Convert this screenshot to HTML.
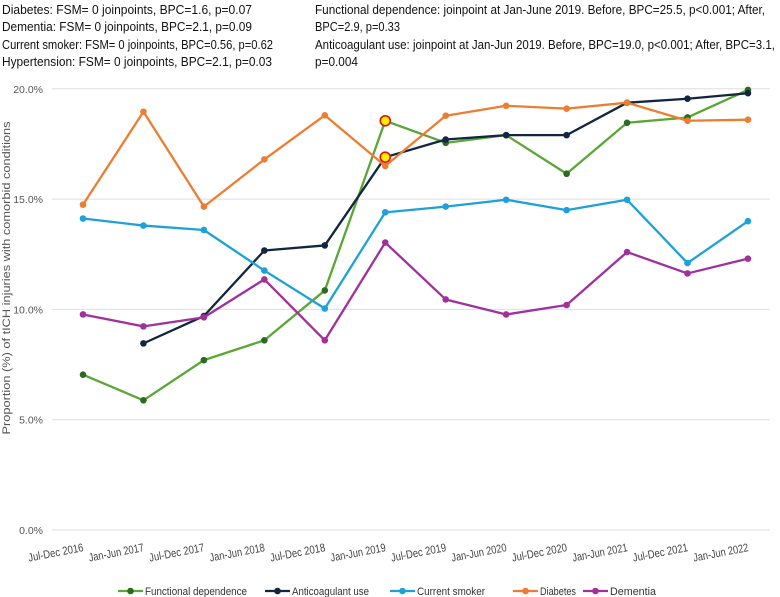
<!DOCTYPE html>
<html><head><meta charset="utf-8"><style>
html,body{margin:0;padding:0;background:#fff;}
svg{display:block;font-family:"Liberation Sans",sans-serif;}
</style></head><body>
<svg id="chart" width="780" height="597" viewBox="0 0 780 597" xmlns="http://www.w3.org/2000/svg">
<g font-size="12.5" fill="#111">
<text x="2" y="14" textLength="250" lengthAdjust="spacingAndGlyphs">Diabetes: FSM= 0 joinpoints, BPC=1.6, p=0.07</text>
<text x="2" y="31" textLength="250" lengthAdjust="spacingAndGlyphs">Dementia: FSM= 0 joinpoints, BPC=2.1, p=0.09</text>
<text x="2" y="49" textLength="271" lengthAdjust="spacingAndGlyphs">Current smoker: FSM= 0 joinpoints, BPC=0.56, p=0.62</text>
<text x="2" y="66" textLength="270" lengthAdjust="spacingAndGlyphs">Hypertension: FSM= 0 joinpoints, BPC=2.1, p=0.03</text>
</g>
<g font-size="12.5" fill="#111">
<text x="315" y="14" textLength="450" lengthAdjust="spacingAndGlyphs">Functional dependence: joinpoint at Jan-June 2019. Before, BPC=25.5, p&lt;0.001; After,</text>
<text x="315" y="31" textLength="85" lengthAdjust="spacingAndGlyphs">BPC=2.9, p=0.33</text>
<text x="315" y="49" textLength="460" lengthAdjust="spacingAndGlyphs">Anticoagulant use: joinpoint at Jan-Jun 2019. Before, BPC=19.0, p&lt;0.001; After, BPC=3.1,</text>
<text x="315" y="66" textLength="43" lengthAdjust="spacingAndGlyphs">p=0.004</text>
</g>
<text transform="translate(10,278) rotate(-90)" text-anchor="middle" font-size="11" fill="#555" textLength="313" lengthAdjust="spacingAndGlyphs">Proportion (%) of tICH injuries with comorbid conditions</text>
<g id="grid"></g><g id="ylabels"></g><g id="xlabels"></g><g id="series"></g>
<g id="legend"></g>
</svg>
<script>
const categories = ["Jul-Dec 2016","Jan-Jun 2017","Jul-Dec 2017","Jan-Jun 2018","Jul-Dec 2018","Jan-Jun 2019","Jul-Dec 2019","Jan-Jun 2020","Jul-Dec 2020","Jan-Jun 2021","Jul-Dec 2021","Jan-Jun 2022"];
const yTicks = [0,5,10,15,20];
const yTickLabels = ["0.0%","5.0%","10.0%","15.0%","20.0%"];
const functionalDependence = [7.04,5.88,7.7,8.6,10.86,18.55,17.55,17.9,16.15,18.46,18.7,19.95];
const anticoagulantUse = [null,8.46,9.7,12.67,12.9,16.9,17.7,17.9,17.9,19.37,19.55,19.8];
const currentSmoker = [14.12,13.8,13.6,11.76,10.04,14.4,14.66,14.97,14.5,14.97,12.1,14.0];
const diabetes = [14.75,18.96,14.66,16.8,18.8,16.5,18.78,19.23,19.1,19.37,18.55,18.6];
const dementia = [9.77,9.23,9.64,11.36,8.6,13.03,10.45,9.77,10.2,12.6,11.63,12.3];
const seriesNames = ["Functional dependence","Anticoagulant use","Current smoker","Diabetes","Dementia"];
const seriesKeys = ["functional-dependence","anticoagulant-use","current-smoker","diabetes","dementia"];
const seriesData = [functionalDependence,anticoagulantUse,currentSmoker,diabetes,dementia];
const lineColors = ["#5aa636","#12263f","#1ea1d9","#ed7d31","#a0309a"];
const markerColors = ["#2a6b20","#12263f","#1ea1d9","#ed7d31","#a0309a"];
const highlightSeries = [0,1];
const highlightIndex = 5;

const NS="http://www.w3.org/2000/svg";
const X0=83, DX=60.45, Y0=530, PPU=22.06;
const xs=i=>X0+i*DX, ys=v=>Y0-v*PPU;
function mk(tag,attrs,parent){const e=document.createElementNS(NS,tag);for(const k in attrs)e.setAttribute(k,attrs[k]);parent.appendChild(e);return e;}
const grid=document.getElementById('grid'), yl=document.getElementById('ylabels'), xl=document.getElementById('xlabels'), sg=document.getElementById('series'), lg=document.getElementById('legend');
yTicks.forEach((t,i)=>{
  const l=mk('line',{x1:52,x2:770,y1:ys(t),y2:ys(t),stroke:'#dedede','stroke-width':1},grid);
  
  
  const tx=mk('text',{x:43,y:ys(t)+4,'text-anchor':'end','font-size':10.5,fill:'#555'},yl);
  tx.textContent=yTickLabels[i];
  
  
});
categories.forEach((c,i)=>{
  const tx=mk('text',{transform:`translate(${xs(i)+1},551) rotate(-11)`,'text-anchor':'end','font-size':11.5,fill:'#444',textLength:56,lengthAdjust:'spacingAndGlyphs'},xl);
  tx.textContent=c;
  
  
});
seriesData.forEach((arr,s)=>{
  const g=mk('g',{},sg);
  
  
  let d='';let started=false;
  arr.forEach((v,i)=>{if(v==null){started=false;return;}d+=(started?'L':'M')+xs(i)+' '+ys(v)+' ';started=true;});
  const p=mk('path',{d:d,fill:'none',stroke:lineColors[s],'stroke-width':2.3,'stroke-linejoin':'round'},g);
  
  
  arr.forEach((v,i)=>{if(v==null)return;
    const c=mk('circle',{cx:xs(i),cy:ys(v),r:3.3,fill:markerColors[s]},g);
    
    
  });
});
highlightSeries.forEach(s=>{
  const c=mk('circle',{cx:xs(highlightIndex),cy:ys(seriesData[s][highlightIndex]),r:5,fill:'#ffee00',stroke:'#e01010','stroke-width':1.6},sg);
  
  
});
const legX=[118,265,390,513,583], legW=[102,77,68,36,46];
seriesNames.forEach((n,s)=>{
  const g=mk('g',{},lg);
  
  
  mk('line',{x1:legX[s],x2:legX[s]+25,y1:591,y2:591,stroke:lineColors[s],'stroke-width':2.3},g);
  mk('circle',{cx:legX[s]+12.5,cy:591,r:3.3,fill:markerColors[s]},g);
  const t=mk('text',{x:legX[s]+27,y:595,'font-size':11,fill:'#333',textLength:legW[s],lengthAdjust:'spacingAndGlyphs'},g);
  t.textContent=n;
});
</script>
</body></html>
